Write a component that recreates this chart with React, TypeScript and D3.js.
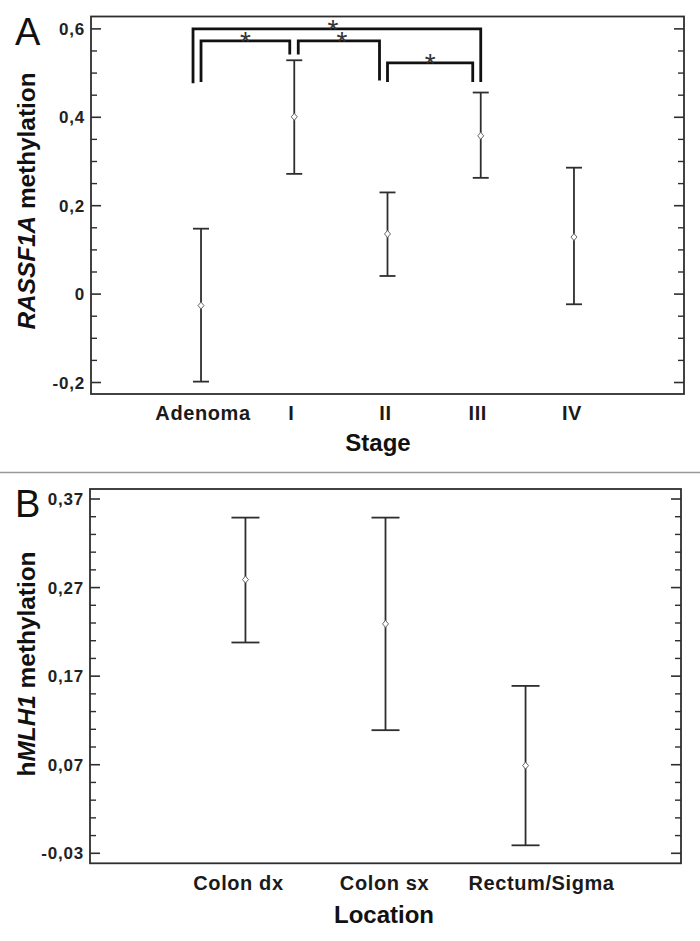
import React from 'react';
import * as d3 from 'd3';

// ---------- Panel A data ----------
const stagesA = ['Adenoma', 'I', 'II', 'III', 'IV'];
const meanA = [-0.026, 0.401, 0.136, 0.358, 0.129];
const lowerA = [-0.198, 0.272, 0.041, 0.263, -0.023];
const upperA = [0.148, 0.529, 0.23, 0.456, 0.286];
const majorTicksA = [-0.2, 0, 0.2, 0.4, 0.6];
const majorLabelsA = ['-0,2', '0', '0,2', '0,4', '0,6'];
const minorTicksA = [-0.15, -0.1, -0.05, 0.05, 0.1, 0.15, 0.25, 0.3, 0.35, 0.45, 0.5, 0.55];
// significance brackets: from, to, bracket level, left leg end, right leg end
const compFrom = ['Adenoma', 'Adenoma', 'I', 'II'];
const compTo = ['III', 'I', 'II', 'III'];
const compLevel = [0.6, 0.573, 0.573, 0.523];
const compLeftEnd = [0.477, 0.48, 0.542, 0.48];
const compRightEnd = [0.48, 0.542, 0.483, 0.48];

// ---------- Panel B data ----------
const locationsB = ['Colon dx', 'Colon sx', 'Rectum/Sigma'];
const meanB = [0.279, 0.229, 0.069];
const lowerB = [0.208, 0.109, -0.021];
const upperB = [0.349, 0.349, 0.159];
const majorTicksB = [-0.03, 0.07, 0.17, 0.27, 0.37];
const majorLabelsB = ['-0,03', '0,07', '0,17', '0,27', '0,37'];
const minorTicksB = [-0.01, 0.01, 0.03, 0.05, 0.09, 0.11, 0.13, 0.15, 0.19, 0.21, 0.23, 0.25, 0.29, 0.31, 0.33, 0.35];

const FONT = 'Liberation Sans, Arial, sans-serif';
const INK = '#2e2e2e';

// bracket leg x offsets (style)
const legDxL = [-8, 0, 4, 0];
const legDxR = [0, -4.5, -8, -8];
const starDx = [-4, 0, 3, 0];

type PanelProps = {
  left: number; right: number; top: number; bottom: number;
  cats: string[]; mean: number[]; lo: number[]; hi: number[];
  domain: [number, number]; padding: number; capHalf: number;
  major: number[]; majorLabels: string[]; minor: number[];
  letter: string; yLabel: React.ReactNode; yLabelCy: number; yLabelLen: number;
  xTitle: string; xTitleX: number; xTitleY: number;
  catLabelY: number; catDx?: number[];
  children?: (x: d3.ScalePoint<string>, y: d3.ScaleLinear<number, number>) => React.ReactNode;
};

function Panel(p: PanelProps) {
  const x = d3.scalePoint<string>().domain(p.cats).range([p.left, p.right]).padding(p.padding);
  const y = d3.scaleLinear().domain(p.domain).range([p.bottom, p.top]);
  return (
    <g>
      <rect x={p.left} y={p.top} width={p.right - p.left} height={p.bottom - p.top}
        fill="none" stroke={INK} strokeWidth={1.8} />
      {p.major.map((t, i) => (
        <g key={'M' + i}>
          <line x1={p.left} x2={p.left + 10} y1={y(t)} y2={y(t)} stroke={INK} strokeWidth={1.6} />
          <line x1={p.right} x2={p.right - 10} y1={y(t)} y2={y(t)} stroke={INK} strokeWidth={1.6} />
          <text x={p.left - 6} y={y(t)} dy="0.36em" textAnchor="end" fontFamily={FONT}
            fontWeight="bold" fontSize={17} letterSpacing={0.8} fill="#222">{p.majorLabels[i]}</text>
        </g>
      ))}
      {p.minor.map((t, i) => (
        <g key={'m' + i}>
          <line x1={p.left} x2={p.left + 6} y1={y(t)} y2={y(t)} stroke={INK} strokeWidth={1.4} />
          <line x1={p.right} x2={p.right - 6} y1={y(t)} y2={y(t)} stroke={INK} strokeWidth={1.4} />
        </g>
      ))}
      {p.cats.map((c, i) => {
        const cx = x(c)!;
        return (
          <g key={c}>
            <line x1={cx} x2={cx} y1={y(p.hi[i])} y2={y(p.lo[i])} stroke={INK} strokeWidth={1.8} />
            <line x1={cx - p.capHalf} x2={cx + p.capHalf} y1={y(p.hi[i])} y2={y(p.hi[i])} stroke={INK} strokeWidth={1.8} />
            <line x1={cx - p.capHalf} x2={cx + p.capHalf} y1={y(p.lo[i])} y2={y(p.lo[i])} stroke={INK} strokeWidth={1.8} />
            <path d={`M${cx},${y(p.mean[i]) - 3.5} L${cx + 3},${y(p.mean[i])} L${cx},${y(p.mean[i]) + 3.5} L${cx - 3},${y(p.mean[i])} Z`}
              fill="#fff" stroke="#666" strokeWidth={1} />
            <text x={cx + (p.catDx ? p.catDx[i] : 0)} y={p.catLabelY} textAnchor="middle" fontFamily={FONT}
              fontWeight="bold" fontSize={20} letterSpacing={0.6} fill="#1a1a1a">{c}</text>
          </g>
        );
      })}
      <text x={15} y={p.top + 28} fontFamily={FONT} fontSize={38} fill="#111">{p.letter}</text>
      <text transform={`translate(${35},${p.yLabelCy}) rotate(-90)`} textAnchor="middle" fontFamily={FONT}
        fontWeight="bold" fontSize={23} fill="#111" textLength={p.yLabelLen} lengthAdjust="spacingAndGlyphs">{p.yLabel}</text>
      <text x={p.xTitleX} y={p.xTitleY} textAnchor="middle" fontFamily={FONT} fontWeight="bold"
        fontSize={24} fill="#111">{p.xTitle}</text>
      {p.children ? p.children(x, y) : null}
    </g>
  );
}

export default function App() {
  return (
    <svg width={700} height={941} style={{ position: 'absolute', left: 0, top: 0, background: '#fff' }}>
      <rect width={700} height={941} fill="#fff" />
      <Panel left={91} right={684} top={16.5} bottom={394} cats={stagesA} mean={meanA} lo={lowerA} hi={upperA}
        domain={[-0.226, 0.628]} padding={1.18} capHalf={8}
        major={majorTicksA} majorLabels={majorLabelsA} minor={minorTicksA}
        letter="A" yLabel={<><tspan fontStyle="italic">RASSF1A</tspan> methylation</>} yLabelCy={201} yLabelLen={257}
        xTitle="Stage" xTitleX={378} xTitleY={451} catLabelY={420} catDx={[2, -3, -2, -3, -2]}>
        {(x, y) => compFrom.map((f, i) => {
          const x1 = x(f)! + legDxL[i];
          const x2 = x(compTo[i])! + legDxR[i];
          const yl = y(compLevel[i]);
          return (
            <g key={'c' + i}>
              <path d={`M${x1},${y(compLeftEnd[i])} V${yl} H${x2} V${y(compRightEnd[i])}`}
                fill="none" stroke="#111" strokeWidth={2.8} />
              <text x={(x1 + x2) / 2 + starDx[i]} y={yl + 10} textAnchor="middle" fontFamily={FONT}
                fontSize={28} fill="#333">*</text>
            </g>
          );
        })}
      </Panel>
      <line x1={0} x2={700} y1={472.5} y2={472.5} stroke="#999" strokeWidth={1.5} />
      <Panel left={90} right={681} top={489} bottom={863.3} cats={locationsB} mean={meanB} lo={lowerB} hi={upperB}
        domain={[-0.0413, 0.3813]} padding={1.11} capHalf={14}
        major={majorTicksB} majorLabels={majorLabelsB} minor={minorTicksB}
        letter="B" yLabel={<>h<tspan fontStyle="italic">MLH1</tspan> methylation</>} yLabelCy={664} yLabelLen={225}
        xTitle="Location" xTitleX={384} xTitleY={923} catLabelY={890} catDx={[-7, -1, 16]} />
    </svg>
  );
}
